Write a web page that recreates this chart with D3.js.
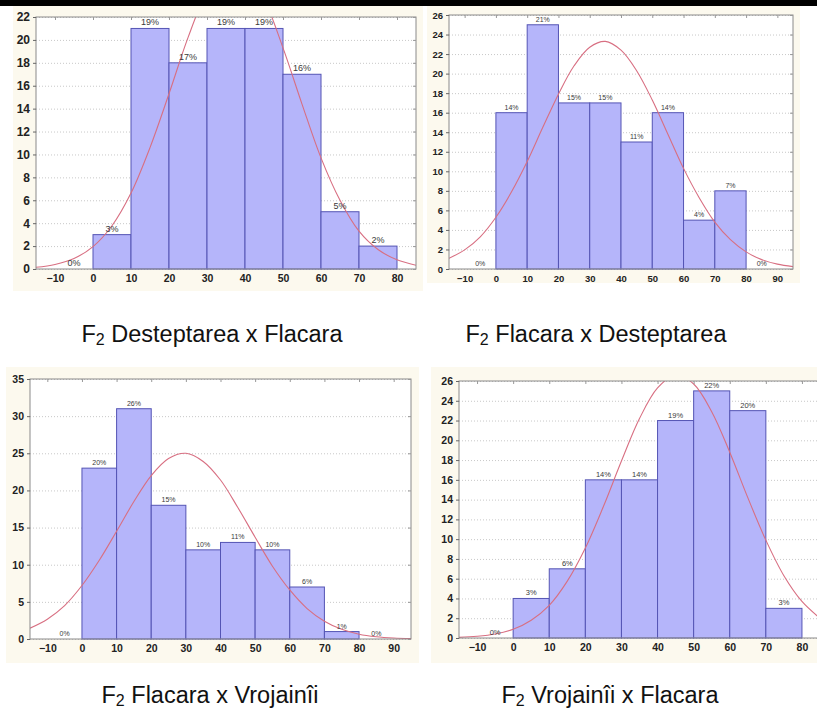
<!DOCTYPE html>
<html>
<head>
<meta charset="utf-8">
<script src="https://cdn.jsdelivr.net/npm/d3@7"></script>
<style>
  body { margin: 0; background: #fff; }
  text { font-family: "Liberation Sans", Arial, sans-serif; }
</style>
</head>
<body>
<svg id="chart" width="817" height="712"></svg>
<script>
// ---- data ----
// panel 1: F2 Desteptarea x Flacara
var p1Bins = [-10, 0, 10, 20, 30, 40, 50, 60, 70];
var p1Counts = [0, 3, 21, 18, 21, 21, 17, 5, 2];
var p1Pct = ["0%", "3%", "19%", "17%", "19%", "19%", "16%", "5%", "2%"];
var p1XTicks = [-10, 0, 10, 20, 30, 40, 50, 60, 70, 80];
var p1YTicks = [0, 2, 4, 6, 8, 10, 12, 14, 16, 18, 20, 22];
var p1CurveX = [-15, -10, -5, 0, 5, 10, 15, 20, 25, 30, 35, 40, 45, 50, 55, 60, 65, 70, 75, 80, 85];
var p1CurveY = [0.15, 0.40, 0.92, 1.96, 3.78, 6.63, 10.6, 15.3, 20.2, 24.2, 26.4, 26.2, 23.6, 19.3, 14.4, 9.7, 6.0, 3.3, 1.7, 0.8, 0.33];

// panel 2: F2 Flacara x Desteptarea
var p2Bins = [-10, 0, 10, 20, 30, 40, 50, 60, 70, 80];
var p2Counts = [0, 16, 25, 17, 17, 13, 16, 5, 8, 0];
var p2Pct = ["0%", "14%", "21%", "15%", "15%", "11%", "14%", "4%", "7%", "0%"];
var p2XTicks = [-10, 0, 10, 20, 30, 40, 50, 60, 70, 80, 90];
var p2YTicks = [0, 2, 4, 6, 8, 10, 12, 14, 16, 18, 20, 22, 24, 26];
var p2CurveX = [-15, -10, -5, 0, 5, 10, 15, 20, 25, 30, 35, 40, 45, 50, 55, 60, 65, 70, 75, 80, 85, 90, 95];
var p2CurveY = [1.1, 1.96, 3.3, 5.3, 7.9, 11.0, 14.5, 17.9, 20.8, 22.7, 23.3, 22.4, 20.3, 17.3, 13.8, 10.3, 7.3, 4.8, 3.0, 1.75, 0.96, 0.5, 0.24];

// panel 3: F2 Flacara x Vrojainîi
var p3Bins = [-10, 0, 10, 20, 30, 40, 50, 60, 70, 80];
var p3Counts = [0, 23, 31, 18, 12, 13, 12, 7, 1, 0];
var p3Pct = ["0%", "20%", "26%", "15%", "10%", "11%", "10%", "6%", "1%", "0%"];
var p3XTicks = [-10, 0, 10, 20, 30, 40, 50, 60, 70, 80, 90];
var p3YTicks = [0, 5, 10, 15, 20, 25, 30, 35];
var p3CurveX = [-15, -10, -5, 0, 5, 10, 15, 20, 25, 30, 35, 40, 45, 50, 55, 60, 65, 70, 75, 80, 85, 90, 95];
var p3CurveY = [1.46, 2.67, 4.5, 7.2, 10.6, 14.5, 18.5, 22.0, 24.3, 25.0, 23.9, 21.4, 17.7, 13.7, 9.8, 6.6, 4.1, 2.4, 1.3, 0.64, 0.3, 0.13, 0.05];

// panel 4: F2 Vrojainîi x Flacara
var p4Bins = [-10, 0, 10, 20, 30, 40, 50, 60, 70];
var p4Counts = [0, 4, 7, 16, 16, 22, 25, 23, 3];
var p4Pct = ["0%", "3%", "6%", "14%", "14%", "19%", "22%", "20%", "3%"];
var p4XTicks = [-10, 0, 10, 20, 30, 40, 50, 60, 70, 80];
var p4YTicks = [0, 2, 4, 6, 8, 10, 12, 14, 16, 18, 20, 22, 24, 26];
var p4CurveX = [-15, -10, -5, 0, 5, 10, 15, 20, 25, 30, 35, 40, 45, 50, 55, 60, 65, 70, 75, 80, 85];
var p4CurveY = [0.06, 0.17, 0.4, 0.88, 1.8, 3.3, 5.75, 9.1, 13.3, 17.9, 22.2, 25.3, 26.6, 25.7, 22.9, 18.8, 14.2, 9.9, 6.3, 3.7, 2.0];

var captions = ["Desteptarea x Flacara", "Flacara x Desteptarea", "Flacara x Vrojainîi", "Vrojainîi x Flacara"];
var binWidth = 10;

// ---- layout ----
var svg = d3.select("#chart");

svg.append("rect").attr("x", 0).attr("y", 0).attr("width", 817).attr("height", 6).attr("fill", "#000");

var panels = [
  {bins: p1Bins, counts: p1Counts, pct: p1Pct, xt: p1XTicks, yt: p1YTicks, cx: p1CurveX, cy: p1CurveY,
   xdom: [-15, 85], ydom: [0, 22], bg: [13, 6, 410, 285], box: [36, 17, 416, 269],
   yfont: 12, xfont: 10.5, pfont: 9, cap: captions[0], capX: 212, capY: 342},
  {bins: p2Bins, counts: p2Counts, pct: p2Pct, xt: p2XTicks, yt: p2YTicks, cx: p2CurveX, cy: p2CurveY,
   xdom: [-15, 95], ydom: [0, 26], bg: [427, 6, 373, 277], box: [449, 15, 793, 269],
   yfont: 9.5, xfont: 9.5, pfont: 7, cap: captions[1], capX: 596, capY: 342},
  {bins: p3Bins, counts: p3Counts, pct: p3Pct, xt: p3XTicks, yt: p3YTicks, cx: p3CurveX, cy: p3CurveY,
   xdom: [-15, 95], ydom: [0, 35], bg: [6, 367, 413, 296], box: [30, 379, 411, 639],
   yfont: 10.5, xfont: 10.5, pfont: 7, cap: captions[2], capX: 210, capY: 703},
  {bins: p4Bins, counts: p4Counts, pct: p4Pct, xt: p4XTicks, yt: p4YTicks, cx: p4CurveX, cy: p4CurveY,
   xdom: [-15, 85], ydom: [0, 26], bg: [431, 367, 400, 296], box: [459, 381, 820, 638],
   yfont: 10.5, xfont: 10.5, pfont: 7.5, cap: captions[3], capX: 610, capY: 703}
];

panels.forEach(function (p, i) {
  var g = svg.append("g");
  var L = p.box[0], T = p.box[1], R = p.box[2], B = p.box[3];

  g.append("rect")
    .attr("x", p.bg[0]).attr("y", p.bg[1])
    .attr("width", p.bg[2]).attr("height", p.bg[3])
    .attr("fill", "#fcf9ee");
  g.append("rect")
    .attr("x", L).attr("y", T).attr("width", R - L).attr("height", B - T)
    .attr("fill", "#fff");

  var x = d3.scaleLinear().domain(p.xdom).range([L, R]);
  var y = d3.scaleLinear().domain(p.ydom).range([B, T]);

  // dotted grid
  g.append("g")
    .attr("transform", "translate(" + L + ",0)")
    .call(d3.axisLeft(y).tickValues(p.yt).tickSize(-(R - L)).tickFormat(""))
    .call(function (a) {
      a.select(".domain").remove();
      a.selectAll("line").attr("stroke", "#c8c8c8").attr("stroke-dasharray", "1,2");
    });

  // bars
  var bars = p.bins.map(function (b, j) { return {x0: b, n: p.counts[j], lab: p.pct[j]}; });
  g.selectAll("rect.bar").data(bars.filter(function (d) { return d.n > 0; }))
    .enter().append("rect")
    .attr("class", "bar")
    .attr("x", function (d) { return x(d.x0); })
    .attr("y", function (d) { return y(d.n); })
    .attr("width", function (d) { return x(d.x0 + binWidth) - x(d.x0); })
    .attr("height", function (d) { return y(0) - y(d.n); })
    .attr("fill", "#b5b5fa")
    .attr("stroke", "#5454b4")
    .attr("stroke-width", 1);

  // fitted normal curve, clipped to the plot box
  var clipId = "clip" + i;
  svg.append("clipPath").attr("id", clipId)
    .append("rect").attr("x", L).attr("y", T).attr("width", R - L).attr("height", B - T);
  var pts = p.cx.map(function (v, j) { return [v, p.cy[j]]; });
  var line = d3.line()
    .x(function (d) { return x(d[0]); })
    .y(function (d) { return y(d[1]); })
    .curve(d3.curveCatmullRom);
  g.append("path")
    .attr("d", line(pts))
    .attr("clip-path", "url(#" + clipId + ")")
    .attr("fill", "none")
    .attr("stroke", "#d86f82")
    .attr("stroke-width", 1.1);

  // percent labels
  g.selectAll("text.pct").data(bars)
    .enter().append("text")
    .attr("class", "pct")
    .attr("x", function (d) { return x(d.x0 + binWidth / 2); })
    .attr("y", function (d) { return y(d.n) - 3; })
    .attr("text-anchor", "middle")
    .attr("font-size", p.pfont)
    .attr("fill", "#3a3a3a")
    .text(function (d) { return d.lab; });

  // frame
  g.append("rect")
    .attr("x", L).attr("y", T).attr("width", R - L).attr("height", B - T)
    .attr("fill", "none").attr("stroke", "#8a8a8a").attr("stroke-width", 1);

  // axes
  g.append("g")
    .attr("transform", "translate(" + L + ",0)")
    .call(d3.axisLeft(y).tickValues(p.yt).tickSize(3).tickPadding(3))
    .call(function (a) {
      a.select(".domain").remove();
      a.selectAll("line").attr("stroke", "#666");
      a.selectAll("text").attr("font-size", p.yfont).attr("font-weight", "bold")
        .attr("fill", "#222").attr("font-family", "Liberation Sans, Arial, sans-serif");
    });
  g.append("g")
    .attr("transform", "translate(0," + B + ")")
    .call(d3.axisBottom(x).tickValues(p.xt).tickSize(0).tickPadding(6))
    .call(function (a) {
      a.select(".domain").remove();
      a.selectAll("text").attr("font-size", p.xfont).attr("font-weight", "bold")
        .attr("fill", "#222").attr("font-family", "Liberation Sans, Arial, sans-serif");
    });
  // small inner ticks on top and right edges
  g.append("g")
    .attr("transform", "translate(0," + T + ")")
    .call(d3.axisTop(x).tickValues(p.xt).tickSize(-3).tickFormat(""))
    .call(function (a) { a.select(".domain").remove(); a.selectAll("line").attr("stroke", "#999"); });
  g.append("g")
    .attr("transform", "translate(" + R + ",0)")
    .call(d3.axisRight(y).tickValues(p.yt).tickSize(-3).tickFormat(""))
    .call(function (a) { a.select(".domain").remove(); a.selectAll("line").attr("stroke", "#999"); });

  // caption
  var cap = svg.append("text")
    .attr("x", p.capX).attr("y", p.capY)
    .attr("text-anchor", "middle")
    .attr("font-size", 23.5)
    .attr("fill", "#111");
  cap.append("tspan").text("F");
  cap.append("tspan").attr("font-size", 16).attr("dy", 3).text("2");
  cap.append("tspan").attr("dy", -3).text(" " + p.cap);
});
</script>
</body>
</html>
